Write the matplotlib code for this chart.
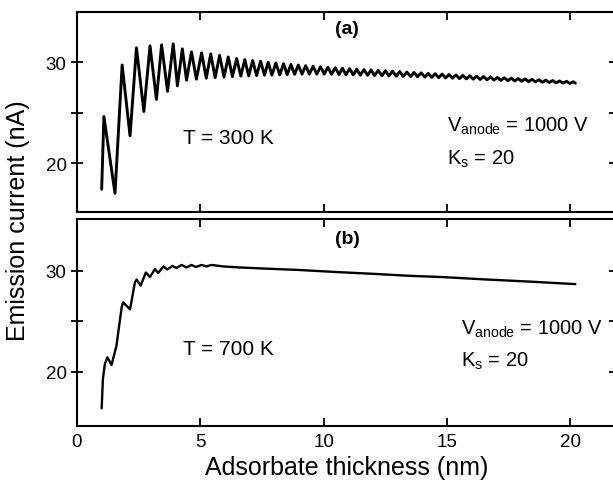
import numpy as np
import matplotlib
matplotlib.use("Agg")
import matplotlib.pyplot as plt
from matplotlib.ticker import MultipleLocator, FixedLocator

plt.rcParams.update({
    "font.family": "Liberation Sans",
    "mathtext.fontset": "custom",
    "mathtext.rm": "Liberation Sans",
    "mathtext.it": "Liberation Sans:italic",
    "axes.linewidth": 1.5,
})

# (a) T = 300 K : peaks / troughs
x_300 = [1.0, 1.09, 1.54, 1.83, 2.15, 2.41, 2.71, 2.96, 3.22, 3.43, 3.67, 3.9, 4.07,
         4.27, 4.44, 4.64, 4.84, 5.05, 5.24, 5.42, 5.6, 5.78, 5.96, 6.13, 6.3,
         6.47, 6.64, 6.8, 6.96, 7.12, 7.28, 7.44, 7.6, 7.75, 7.9, 8.06, 8.22,
         8.37, 8.52, 8.67, 8.82, 8.97, 9.12, 9.27, 9.42, 9.57, 9.72, 9.87, 10.02,
         10.17, 10.32, 10.47, 10.62, 10.76, 10.9, 11.05, 11.2, 11.34, 11.48,
         11.63, 11.78, 11.92, 12.06, 12.21, 12.36, 12.5, 12.64, 12.79, 12.94,
         13.08, 13.22, 13.37, 13.52, 13.66, 13.8, 13.95, 14.1, 14.24, 14.38,
         14.52, 14.66, 14.8, 14.94, 15.08, 15.22, 15.36, 15.5, 15.64, 15.78,
         15.92, 16.06, 16.2, 16.34, 16.48, 16.62, 16.76, 16.9, 17.04, 17.18,
         17.32, 17.46, 17.6, 17.74, 17.88, 18.02, 18.16, 18.3, 18.44, 18.58,
         18.72, 18.86, 19.0, 19.14, 19.28, 19.42, 19.56, 19.7, 19.84, 19.98,
         20.12, 20.2]
i_300 = [17.4, 24.6, 17.0, 29.7, 22.7, 31.4, 25.1, 31.6, 26.3, 31.7, 27.1, 31.8, 27.65,
         31.3, 28.2, 31.0, 28.3, 30.9, 28.4, 30.8, 28.45, 30.65, 28.5, 30.5, 28.55,
         30.35, 28.6, 30.24, 28.62, 30.15, 28.66, 30.07, 28.7, 29.98, 28.7, 29.9, 28.72,
         29.83, 28.75, 29.76, 28.78, 29.7, 28.8, 29.64, 28.8, 29.58, 28.8, 29.53, 28.8,
         29.48, 28.78, 29.43, 28.76, 29.38, 28.74, 29.34, 28.72, 29.3, 28.7,
         29.25, 28.68, 29.21, 28.66, 29.17, 28.64, 29.13, 28.62, 29.09, 28.6,
         29.05, 28.58, 29.0, 28.56, 28.96, 28.54, 28.92, 28.51, 28.88, 28.48,
         28.84, 28.45, 28.8, 28.42, 28.76, 28.39, 28.72, 28.36, 28.68, 28.33,
         28.64, 28.3, 28.6, 28.27, 28.56, 28.24, 28.52, 28.21, 28.48, 28.18,
         28.44, 28.15, 28.4, 28.12, 28.36, 28.09, 28.32, 28.06, 28.28, 28.03,
         28.24, 28.0, 28.2, 27.97, 28.16, 27.94, 28.12, 27.91, 28.08, 27.88,
         28.04, 27.9]

# (b) T = 700 K
x_700 = [1.0, 1.05, 1.13, 1.23, 1.4, 1.6, 1.81, 1.87, 2.15, 2.35, 2.42, 2.58, 2.79,
         2.96, 3.16, 3.29, 3.5, 3.66, 3.87, 4.03, 4.24, 4.44, 4.64, 4.82, 5.05,
         5.25, 5.45, 5.93, 6.6, 7.5, 9.0, 10.5, 12.0, 13.5, 14.8, 16.5, 18.5, 20.2]
i_700 = [16.4, 19.3, 20.8, 21.45, 20.7, 22.6, 26.4, 26.9, 26.2, 28.9, 29.15, 28.55, 29.85,
         29.4, 30.2, 29.8, 30.45, 30.15, 30.5, 30.3, 30.6, 30.35, 30.6, 30.4, 30.6,
         30.45, 30.6, 30.45, 30.35, 30.25, 30.1, 29.9, 29.72, 29.52, 29.4, 29.17, 28.93, 28.7]

fig = plt.figure(figsize=(6.13, 4.85), dpi=100)
ax1 = fig.add_axes([0.1256, 0.5608, 0.8774, 0.4124])
ax2 = fig.add_axes([0.1256, 0.1196, 0.8774, 0.4268])

ax1.plot(x_300, i_300, color="black", linewidth=2.1,
         solid_joinstyle="round", solid_capstyle="round")
ax2.plot(x_700, i_700, color="black", linewidth=1.7,
         solid_joinstyle="round", solid_capstyle="round")

for ax in (ax1, ax2):
    ax.set_xlim(0, 21.8)
    ax.xaxis.set_major_locator(MultipleLocator(5))
    ax.yaxis.set_major_locator(FixedLocator([20, 30]))
    ax.yaxis.set_minor_locator(FixedLocator([25]))
    ax.tick_params(axis="x", direction="in", top=True, length=6, width=1.3,
                   labelsize=13.5, pad=5)
    ax.tick_params(axis="y", which="both", direction="inout", right=True,
                   length=9, width=1.3, labelsize=13.5, pad=3)

ax1.set_ylim(15.15, 34.95)
ax2.set_ylim(14.65, 35.15)
ax1.tick_params(axis="x", labelbottom=False)

ax1.text(10.93, 33.3, "(a)", fontsize=14, fontweight="bold", ha="center", va="center")
ax2.text(10.97, 33.2, "(b)", fontsize=14, fontweight="bold", ha="center", va="center")

ax1.text(4.3, 22.5, "T = 300 K", fontsize=15, ha="left", va="center")
ax2.text(4.3, 22.3, "T = 700 K", fontsize=15, ha="left", va="center")

ax1.text(15.0, 23.2, r"V$_{\mathrm{anode}}$ = 1000 V", fontsize=14.5, ha="left", va="baseline")
ax1.text(15.0, 19.9, r"K$_{\mathrm{s}}$ = 20", fontsize=14.5, ha="left", va="baseline")
ax2.text(15.57, 23.8, r"V$_{\mathrm{anode}}$ = 1000 V", fontsize=14.5, ha="left", va="baseline")
ax2.text(15.57, 20.6, r"K$_{\mathrm{s}}$ = 20", fontsize=14.5, ha="left", va="baseline")

fig.text(0.03, 0.545, "Emission current (nA)", fontsize=18, rotation=90,
         ha="center", va="center")
fig.text(0.5656, 0.035, "Adsorbate thickness (nm)", fontsize=18,
         ha="center", va="center")

fig.savefig("out.png", dpi=100)
